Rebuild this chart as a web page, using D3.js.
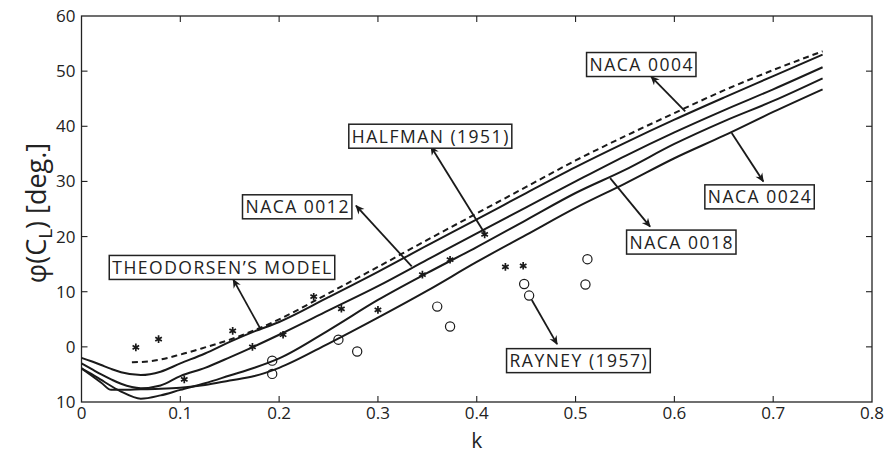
<!DOCTYPE html>
<html><head><meta charset="utf-8">
<script src="https://cdn.jsdelivr.net/npm/d3@7"></script>
<style>body{margin:0;background:#fff}svg{display:block}</style>
</head><body>
<svg id="c" width="888" height="455"></svg>
<script>
// ---- data ----
const kGrid = [0,0.01,0.02,0.03,0.04,0.06,0.08,0.1,0.125,0.15,0.175,0.2,0.25,0.3,0.35,0.4,0.45,0.5,0.55,0.6,0.65,0.7,0.75];
const naca0004 = [-2.0,-2.6,-3.3,-4.0,-4.6,-5.1,-4.5,-3.0,-1.2,0.9,2.8,4.5,9.0,13.6,18.4,23.1,27.9,32.6,37.0,41.2,45.2,49.1,53.0];
const naca0012 = [-3.0,-4.0,-5.0,-5.9,-6.7,-7.5,-7.0,-5.3,-3.8,-1.9,0.1,2.2,6.6,11.0,15.8,20.6,25.3,30.0,34.6,38.9,42.9,46.7,50.7];
const naca0018 = [-3.9,-4.9,-6.0,-7.1,-8.1,-9.4,-8.8,-7.8,-6.6,-5.2,-3.8,-2.1,3.0,8.5,13.4,18.1,23.0,27.9,32.1,36.8,40.9,44.6,48.7];
const naca0024 = [-3.9,-5.2,-6.5,-7.8,-7.8,-7.7,-7.6,-7.4,-6.9,-6.1,-5.3,-3.8,0.6,5.3,10.2,15.4,20.3,25.2,29.6,34.2,38.3,42.6,46.7];
const kTheo = [0.051,0.07,0.1,0.125,0.15,0.175,0.2,0.25,0.3,0.35,0.4,0.45,0.5,0.55,0.6,0.65,0.7,0.75];
const theodorsen = [-2.8,-2.6,-1.4,-0.1,1.3,3.0,5.0,9.7,14.5,19.4,24.2,29.0,33.8,38.2,42.4,46.5,50.2,53.6];
const halfmanK = [0.055,0.078,0.104,0.153,0.173,0.204,0.235,0.263,0.300,0.345,0.373,0.408,0.429,0.447];
const halfmanPhi = [-0.1,1.4,-5.9,2.9,0.0,2.2,9.1,6.9,6.7,13.1,15.8,20.4,14.5,14.7];
const rayneyK = [0.193,0.193,0.260,0.279,0.360,0.373,0.448,0.453,0.510,0.512];
const rayneyPhi = [-2.5,-4.9,1.3,-0.85,7.3,3.7,11.4,9.3,11.3,15.9];
const xTicks = [0,0.1,0.2,0.3,0.4,0.5,0.6,0.7,0.8];
const yTicks = [-10,0,10,20,30,40,50,60];
const labelText = ["NACA 0004","HALFMAN (1951)","NACA 0012","THEODORSEN\u2019S MODEL","NACA 0024","NACA 0018","RAYNEY (1957)"];
const labelK   = [0.567,0.3535,0.2188,0.1427,0.6867,0.6075,0.5034];
const labelPhi = [51.2,38.2,25.4,14.4,27.2,19.0,-2.5];
const arrowFromK   = [0.611,0.408,0.3342,0.1807,0.658,0.535,0.4557];
const arrowFromPhi = [42.7,20.6,14.6,3.4,38.8,30.6,8.5];
const arrowToK     = [0.5765,0.3537,0.2778,0.1536,0.690,0.5754,0.4813];
const arrowToPhi   = [49.0,36.3,25.6,12.2,30.0,21.8,0.5];

// ---- layout ----
const svg = d3.select("#c");
const L=81.5, R=872, T=16, B=402;
const x = d3.scaleLinear().domain([0,0.8]).range([L,R]);
const y = d3.scaleLinear().domain([-10,60]).range([B,T]);
const font = "'Open Sans', sans-serif";

const defs = svg.append("defs");
defs.append("marker").attr("id","ah").attr("viewBox","0 0 10 10").attr("refX",9).attr("refY",5)
  .attr("markerWidth",11).attr("markerHeight",9).attr("markerUnits","userSpaceOnUse").attr("orient","auto")
  .append("path").attr("d","M0,0.5 L10,5 L0,9.5 L3,5 Z").attr("fill","#1a1a1a");

// frame
svg.append("rect").attr("x",L).attr("y",T).attr("width",R-L).attr("height",B-T)
  .attr("fill","none").attr("stroke","#222").attr("stroke-width",1.3);

// ticks (inward, all sides)
const tl=6;
const tg = svg.append("g").attr("stroke","#222").attr("stroke-width",1.1);
xTicks.slice(1,-1).forEach(t=>{
  tg.append("line").attr("x1",x(t)).attr("x2",x(t)).attr("y1",B).attr("y2",B-tl);
  tg.append("line").attr("x1",x(t)).attr("x2",x(t)).attr("y1",T).attr("y2",T+tl);
});
yTicks.slice(1,-1).forEach(t=>{
  tg.append("line").attr("y1",y(t)).attr("y2",y(t)).attr("x1",L).attr("x2",L+tl);
  tg.append("line").attr("y1",y(t)).attr("y2",y(t)).attr("x1",R).attr("x2",R-tl);
});
// tick labels
svg.append("g").selectAll("text").data(xTicks).join("text")
  .attr("x",d=>x(d)).attr("y",B+17).attr("text-anchor","middle")
  .attr("font-family",font).attr("font-size",17).attr("fill","#222")
  .text(d=>d===0?"0":d3.format(".1f")(d));
svg.append("g").selectAll("text").data(yTicks).join("text")
  .attr("x",L-6).attr("y",d=>y(d)+6).attr("text-anchor","end")
  .attr("font-family",font).attr("font-size",17).attr("fill","#222")
  .text(d=>String(Math.abs(d)));
// axis titles
svg.append("text").attr("x",x(0.4)).attr("y",448).attr("text-anchor","middle")
  .attr("font-family",font).attr("font-size",21).attr("fill","#222").text("k");
const yl = svg.append("text").attr("transform",`translate(46,${(T+B)/2+4}) rotate(-90)`)
  .attr("text-anchor","middle").attr("font-family",font).attr("font-size",27).attr("fill","#222");
yl.append("tspan").text("\u03C6(C");
yl.append("tspan").attr("font-size",19).attr("dy",6).text("L");
yl.append("tspan").attr("dy",-6).text(") [deg.]");

// curves
const line = d3.line().x(d=>x(d[0])).y(d=>y(d[1])).curve(d3.curveMonotoneX);
[naca0004,naca0012,naca0018,naca0024].forEach(s=>{
  svg.append("path").attr("d",line(kGrid.map((k,i)=>[k,s[i]])))
    .attr("fill","none").attr("stroke","#1a1a1a").attr("stroke-width",2);
});
svg.append("path").attr("d",line(kTheo.map((k,i)=>[k,theodorsen[i]])))
  .attr("fill","none").attr("stroke","#1a1a1a").attr("stroke-width",2).attr("stroke-dasharray","6,4");

// markers
const star = d3.symbol().type(d3.symbolAsterisk).size(40);
svg.append("g").selectAll("path").data(halfmanK).join("path")
  .attr("transform",(d,i)=>`translate(${x(d)},${y(halfmanPhi[i])})`)
  .attr("d",star).attr("fill","none").attr("stroke","#1a1a1a").attr("stroke-width",1.7);
svg.append("g").selectAll("circle").data(rayneyK).join("circle")
  .attr("cx",d=>x(d)).attr("cy",(d,i)=>y(rayneyPhi[i])).attr("r",4.6)
  .attr("fill","none").attr("stroke","#1a1a1a").attr("stroke-width",1.2);

// annotations
labelText.forEach((t,i)=>{
  svg.append("line").attr("x1",x(arrowFromK[i])).attr("y1",y(arrowFromPhi[i]))
    .attr("x2",x(arrowToK[i])).attr("y2",y(arrowToPhi[i]))
    .attr("stroke","#1a1a1a").attr("stroke-width",1.8).attr("marker-end","url(#ah)");
  const g = svg.append("g");
  const tx = g.append("text").attr("x",x(labelK[i])).attr("y",y(labelPhi[i])+6.5)
    .attr("text-anchor","middle").attr("font-family",font).attr("font-size",17.5)
    .attr("letter-spacing",1.5).attr("fill","#222").text(t);
  const bb = tx.node().getBBox();
  g.insert("rect","text").attr("x",bb.x-3).attr("y",y(labelPhi[i])-12)
    .attr("width",bb.width+5).attr("height",24)
    .attr("fill","#fff").attr("stroke","#222").attr("stroke-width",1.5);
});
</script>
</body></html>
